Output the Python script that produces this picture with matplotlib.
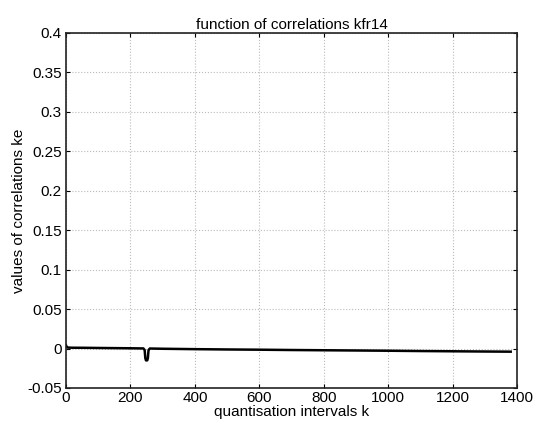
import matplotlib
matplotlib.use("Agg")
import matplotlib.pyplot as plt

plt.rcParams['font.family'] = ['Liberation Sans', 'DejaVu Sans']

# correlation values read along the quantisation interval axis
k_values = [0, 2, 5, 20, 60, 100, 150, 200, 240, 244, 246, 248, 252, 254, 256,
            260, 300, 400, 500, 600, 700, 800, 900, 1000, 1100, 1200, 1300, 1380]
ke_values = [0.004, 0.002, 0.0012, 0.001, 0.0009, 0.0007, 0.0005, 0.0003, 0.0001,
             -0.002, -0.012, -0.015, -0.015, -0.012, -0.002, 0.0, -0.0003,
             -0.0008, -0.0012, -0.0015, -0.0019, -0.0022, -0.0025, -0.0028,
             -0.0032, -0.0035, -0.0038, -0.004]

x_ticks = [0, 200, 400, 600, 800, 1000, 1200, 1400]
y_ticks = [-0.05, 0, 0.05, 0.1, 0.15, 0.2, 0.25, 0.3, 0.35, 0.4]
y_tick_labels = ['-0.05', '0', '0.05', '0.1', '0.15', '0.2', '0.25', '0.3', '0.35', '0.4']

fig = plt.figure(figsize=(5.37, 4.29), dpi=100)
ax = fig.add_axes([0.123, 0.0956, 0.840, 0.828])

ax.plot(k_values, ke_values, color='black', linewidth=1.8)

ax.set_xlim(0, 1400)
ax.set_ylim(-0.05, 0.4)
ax.set_xticks(x_ticks)
ax.set_yticks(y_ticks)
ax.set_yticklabels(y_tick_labels)
ax.tick_params(direction='in', top=True, right=True, labelsize=11,
               length=3, width=0.8)
ax.tick_params(axis='x', pad=2)
ax.tick_params(axis='y', pad=3)
ax.grid(True, linestyle=':', color='#bbbbbb', linewidth=0.8)
for s in ax.spines.values():
    s.set_linewidth(1.2)
    s.set_color('#222222')

ax.set_title('function of correlations kfr14', fontsize=11, pad=3)
ax.set_xlabel('quantisation intervals k', fontsize=11, labelpad=0)
ax.set_ylabel('values of correlations ke', fontsize=11, labelpad=1)

fig.savefig('out.png', dpi=100)
